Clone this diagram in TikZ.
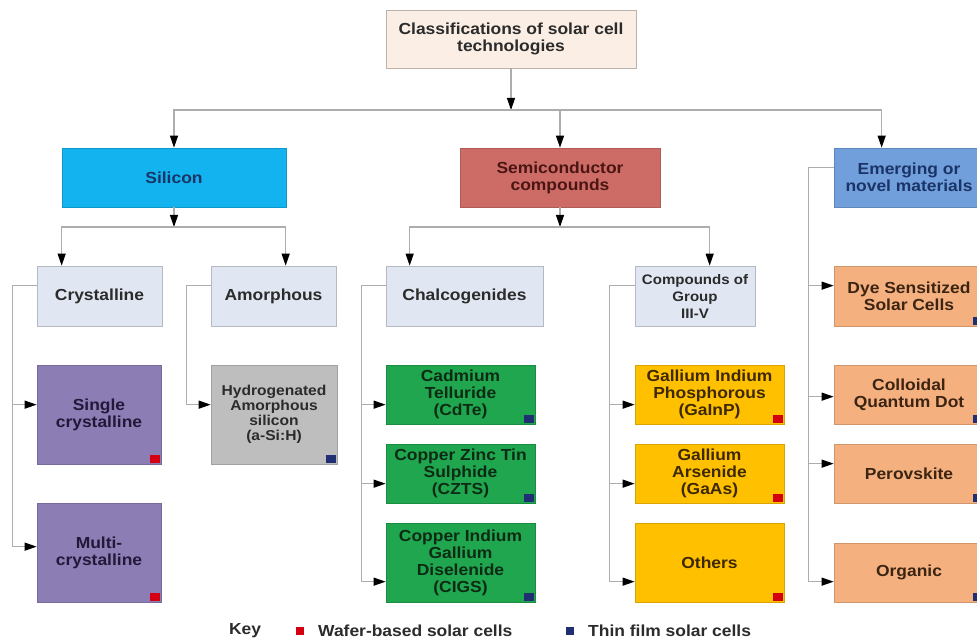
\documentclass[tikz,border=0pt]{standalone}
\usepackage{fontspec}
\setmainfont{Liberation Sans}[FakeStretch=1.09]
\usetikzlibrary{arrows.meta,calc}
\definecolor{lineC}{HTML}{ADADAD}
\definecolor{cTop}{HTML}{FBEEE5}
\definecolor{cSil}{HTML}{12B3EE}
\definecolor{cSemi}{HTML}{CD6C66}
\definecolor{cEmer}{HTML}{719FDC}
\definecolor{cLight}{HTML}{E1E7F2}
\definecolor{cPurp}{HTML}{8D7DB5}
\definecolor{cGray}{HTML}{BEBEBE}
\definecolor{cGreen}{HTML}{1FA64E}
\definecolor{cYel}{HTML}{FFC000}
\definecolor{cPeach}{HTML}{F5B07F}
\definecolor{mRed}{HTML}{D40012}
\definecolor{mBlue}{HTML}{1F2F72}
\definecolor{tDark}{HTML}{2B2B2B}
\definecolor{tNavy}{HTML}{1B3467}
\definecolor{tRed}{HTML}{4A1512}
\definecolor{tPurp}{HTML}{221838}
\definecolor{tGreen}{HTML}{0D2B14}
\definecolor{tYel}{HTML}{3D2800}
\definecolor{tPeach}{HTML}{3B2412}
\begin{document}
\begin{tikzpicture}[x=1pt,y=-1pt,
  base/.style={rectangle, align=center, inner sep=0pt, line width=0.7pt,
    font=\bfseries\fontsize{16}{17}\selectfont},
  lt/.style={base, fill=cLight, draw=cLight!80!black, text=tDark},
  ln/.style={draw=lineC, line width=1.1pt},
  arr/.style={ln, -{Triangle[length=12pt,width=8pt,color=black]}}
]
\clip (0,0) rectangle (977,639);
\fill[white] (0,0) rectangle (977,639);

% top level
\node[base, fill=cTop, draw=cTop!75!black, text=tDark, minimum width=250pt, minimum height=58pt] (top) at (511,39) {Classifications of solar cell\\technologies};
\node[base, fill=cSil, draw=cSil!85!black, text=tNavy, minimum width=224pt, minimum height=59pt] (sil) at (174,177.5) {Silicon};
\node[base, fill=cSemi, draw=cSemi!85!black, text=tRed, minimum width=200pt, minimum height=59pt] (semi) at (560,177.5) {Semiconductor\\compounds};
\node[base, fill=cEmer, draw=cEmer!85!black, text=tNavy, minimum width=150pt, minimum height=59pt] (emer) at (909,177.5) {Emerging or\\novel materials};

% second level
\node[lt, minimum width=125pt, minimum height=60pt] (cry) at (99.5,296) {Crystalline};
\node[lt, minimum width=125pt, minimum height=60pt] (amo) at (273.5,296) {Amorphous};
\node[lt, minimum width=157pt, minimum height=60pt] (chal) at (464.5,296) {Chalcogenides};
\node[lt, minimum width=120pt, minimum height=60pt, font=\bfseries\fontsize{13.8}{17}\selectfont] (comp) at (695,296) {Compounds of\\Group\\III-V};
\node[base, fill=cPeach, draw=cPeach!85!black, text=tPeach, minimum width=150pt, minimum height=60pt] (dssc) at (909,296) {Dye Sensitized\\Solar Cells};

% leaves
\node[base, fill=cPurp, draw=cPurp!85!black, text=tPurp, minimum width=124pt, minimum height=99pt] (sgl) at (99,414.5) {Single\\crystalline};
\node[base, fill=cPurp, draw=cPurp!85!black, text=tPurp, minimum width=124pt, minimum height=99pt] (mul) at (99,552.5) {Multi-\\crystalline};
\node[base, fill=cGray, draw=cGray!85!black, text=tDark, minimum width=126pt, minimum height=99pt, font=\bfseries\fontsize{14.3}{15}\selectfont] (hyd) at (274,414.5) {Hydrogenated\\Amorphous\\silicon\\(a-Si:H)};

\tikzset{gr/.style={base, fill=cGreen, draw=cGreen!85!black, text=tGreen, minimum width=149pt},
         ye/.style={base, fill=cYel, draw=cYel!85!black, text=tYel, minimum width=149pt},
         pe/.style={base, fill=cPeach, draw=cPeach!85!black, text=tPeach, minimum width=150pt, minimum height=59pt}}
\node[gr, minimum height=59pt] (cdte) at (460.5,394.5) {Cadmium\\Telluride\\(CdTe)};
\node[gr, minimum height=59pt] (czts) at (460.5,473.5) {Copper Zinc Tin\\Sulphide\\(CZTS)};
\node[gr, minimum height=79pt] (cigs) at (460.5,562.5) {Copper Indium\\Gallium\\Diselenide\\(CIGS)};
\node[ye, minimum height=59pt] (gainp) at (709.5,394.5) {Gallium Indium\\Phosphorous\\(GaInP)};
\node[ye, minimum height=59pt] (gaas) at (709.5,473.5) {Gallium\\Arsenide\\(GaAs)};
\node[ye, minimum height=79pt] (oth) at (709.5,562.5) {Others};
\node[pe] (cqd) at (909,394.5) {Colloidal\\Quantum Dot};
\node[pe] (perov) at (909,473.5) {Perovskite};
\node[pe] (org) at (909,572.5) {Organic};

% markers
\foreach \b in {sgl,mul,gainp,gaas,oth}
  \fill[mRed] ($(\b.south east)+(-11,-9)$) rectangle ($(\b.south east)+(-1,-1)$);
\foreach \b in {hyd,cdte,czts,cigs,dssc,cqd,perov,org}
  \fill[mBlue] ($(\b.south east)+(-11,-9)$) rectangle ($(\b.south east)+(-1,-1)$);

% top bus
\coordinate (bT) at (511,110);
\draw[arr] (top.south) -- (bT);
\draw[arr] (bT) -| (sil.north);
\draw[arr] (bT) -| ($(emer.north west)+(48,0)$);
\draw[arr] (semi.north |- bT) -- (semi.north);

% silicon bus
\coordinate (bS) at (174,227);
\draw[arr] (sil.south) -- (bS);
\draw[arr] (bS) -| ($(cry.north west)+(25,0)$);
\draw[arr] (bS) -| ($(amo.north west)+(75,0)$);

% semiconductor bus
\coordinate (bC) at (560,227);
\draw[arr] (semi.south) -- (bC);
\draw[arr] (bC) -| ($(chal.north west)+(24,0)$);
\draw[arr] (bC) -| ($(comp.north west)+(75,0)$);

% rails
\draw[arr] ($(cry.north west)+(0,20)$) -- ++(-24,0) |- ($(mul.north west)+(0,44)$);
\draw[arr] ($(sgl.north west)+(-24,40)$) -- ($(sgl.north west)+(0,40)$);

\draw[arr] ($(amo.north west)+(0,20)$) -- ++(-24,0) |- ($(hyd.north west)+(0,40)$);

\draw[arr] ($(chal.north west)+(0,20)$) -- ++(-24,0) |- ($(cigs.north west)+(0,59)$);
\draw[arr] ($(cdte.north west)+(-24,40)$) -- ($(cdte.north west)+(0,40)$);
\draw[arr] ($(czts.north west)+(-24,40)$) -- ($(czts.north west)+(0,40)$);

\draw[arr] ($(comp.north west)+(0,20)$) -- ++(-25,0) |- ($(oth.north west)+(0,59)$);
\draw[arr] ($(gainp.north west)+(-25,40)$) -- ($(gainp.north west)+(0,40)$);
\draw[arr] ($(gaas.north west)+(-25,40)$) -- ($(gaas.north west)+(0,40)$);

\draw[arr] ($(emer.north west)+(0,20)$) -- ++(-25,0) |- ($(org.north west)+(0,39)$);
\draw[arr] ($(dssc.north west)+(-25,20)$) -- ($(dssc.north west)+(0,20)$);
\draw[arr] ($(cqd.north west)+(-25,32)$) -- ($(cqd.north west)+(0,32)$);
\draw[arr] ($(perov.north west)+(-25,20)$) -- ($(perov.north west)+(0,20)$);

% legend
\node[font=\bfseries\fontsize{16}{17}\selectfont, text=tDark, inner sep=0pt] (key) at (245,631) {Key};
\node[fill=mRed, minimum size=8pt, inner sep=0pt] (kr) at (300,631) {};
\node[font=\bfseries\fontsize{16}{17}\selectfont, text=tDark, anchor=west, inner sep=0pt] (kw) at (318,631) {Wafer-based solar cells};
\node[fill=mBlue, minimum size=8pt, inner sep=0pt] (kb) at (570,631) {};
\node[font=\bfseries\fontsize{16}{17}\selectfont, text=tDark, anchor=west, inner sep=0pt] (kt) at (588,631) {Thin film solar cells};
\end{tikzpicture}
\end{document}
